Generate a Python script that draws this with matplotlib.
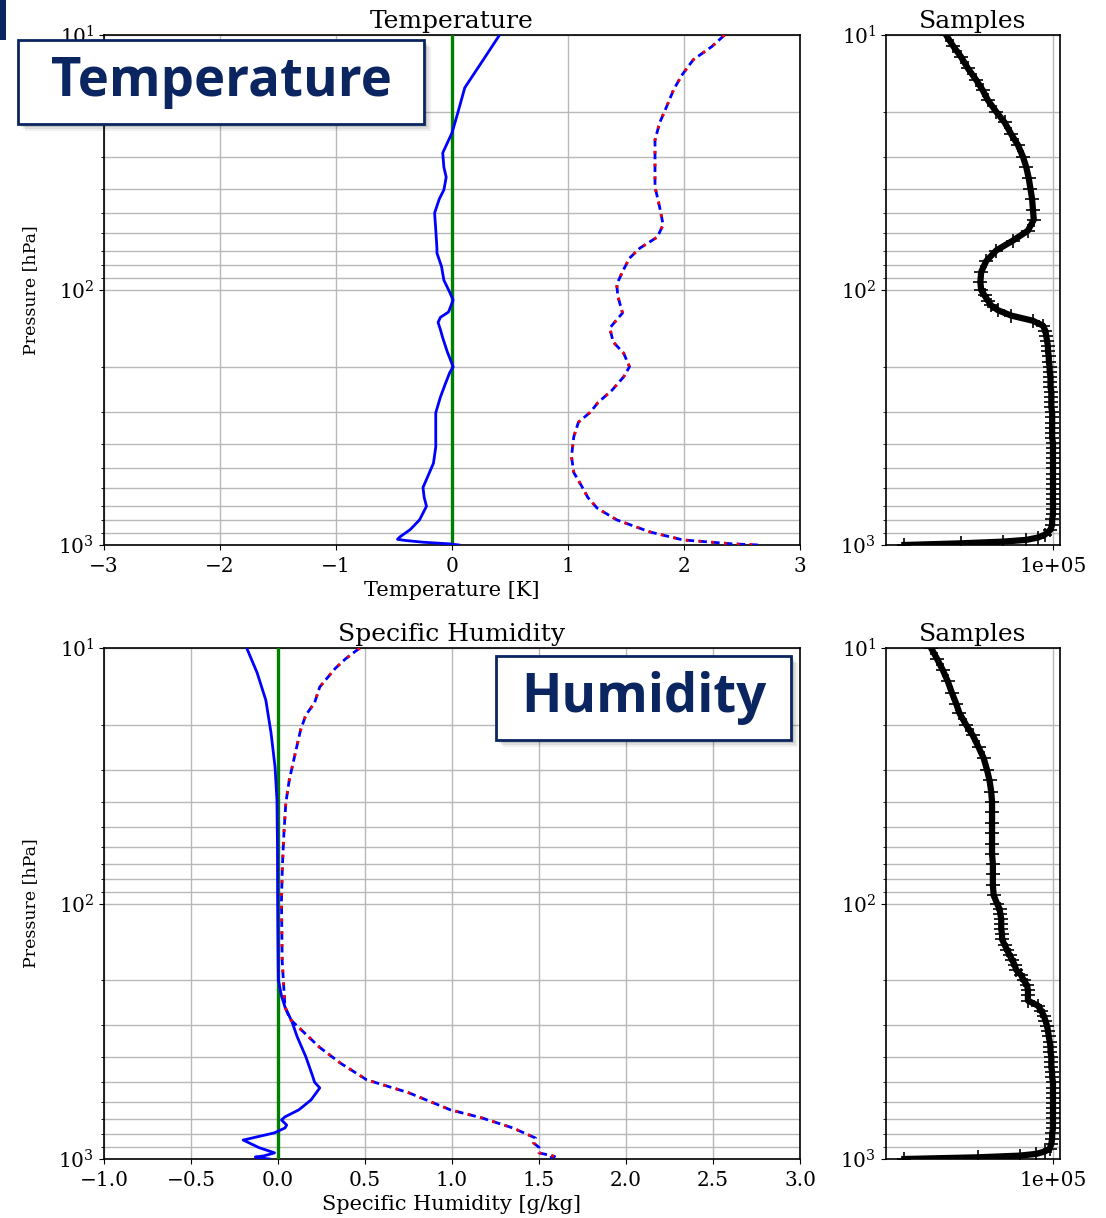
import matplotlib
matplotlib.use('Agg')
import matplotlib.pyplot as plt
import matplotlib.ticker as mticker
from matplotlib.patches import Rectangle

plt.rcParams['font.family'] = 'DejaVu Serif'
plt.rcParams['mathtext.fontset'] = 'dejavuserif'
plt.rcParams['axes.unicode_minus'] = True

# ---------------------------------------------------------------
# Data (pressure in hPa)
# ---------------------------------------------------------------

# temperature: mean departure (solid blue)
t_bias_p = [10, 12.5, 16.1, 20.2, 24.2, 29, 33, 36.1, 40.5, 44, 49.9, 58, 68.5, 71.6, 81,
            91.5, 102, 109.5, 122, 128, 134, 143, 154, 175, 200, 211, 235, 263, 303, 350,
            413, 478, 540, 595, 650, 705, 797, 870, 930, 950, 960, 975, 990, 1000]
t_bias = [0.41, 0.27, 0.11, 0.05, 0.0, -0.08, -0.07, -0.05, -0.07, -0.11, -0.15, -0.14, -0.13, -0.13, -0.09,
          -0.07, -0.02, 0.01, -0.03, -0.10, -0.12, -0.10, -0.08, -0.04, 0.01, -0.02, -0.06, -0.10, -0.14, -0.14,
          -0.14, -0.16, -0.21, -0.25, -0.24, -0.22, -0.28, -0.36, -0.45, -0.47, -0.40, -0.25, -0.02, 0.06]

# temperature: standard deviation (dashed red / blue)
t_std_p = [10, 11.1, 12.5, 14.4, 16.4, 19.1, 22.1, 25.8, 33, 39.4, 47.3, 55.5, 62, 68.5, 75, 83,
           95, 106, 123, 141, 160, 177, 200, 219, 247, 276, 302, 330, 376, 450, 520, 590, 650,
           716, 797, 890, 955, 990, 1000]
t_std = [2.35, 2.24, 2.08, 1.98, 1.91, 1.85, 1.79, 1.75, 1.75, 1.75, 1.79, 1.82, 1.77, 1.62, 1.53, 1.48,
         1.42, 1.43, 1.47, 1.36, 1.39, 1.48, 1.53, 1.48, 1.38, 1.26, 1.19, 1.09, 1.05, 1.03, 1.05, 1.12, 1.17,
         1.25, 1.42, 1.71, 1.99, 2.42, 2.65]

# specific humidity: mean departure (solid blue)
q_bias_p = [10, 12.5, 16, 21.5, 29.2, 39.4, 60, 97, 150, 199, 230, 254, 290, 332, 398, 476, 500,
            527, 587, 642, 684, 703, 737, 756, 790, 843, 902, 946, 972, 982, 992, 1000]
q_bias = [-0.18, -0.12, -0.07, -0.04, -0.017, -0.006, -0.003, -0.002, 0.0, 0.002, 0.02, 0.04, 0.08, 0.11,
          0.16, 0.20, 0.21, 0.24, 0.19, 0.12, 0.04, 0.02, 0.05, 0.04, -0.02, -0.20, -0.11, -0.02, -0.08,
          -0.13, -0.10, -0.05]

# specific humidity: standard deviation (dashed red / blue)
q_std_p = [10, 11, 12, 14.2, 16.4, 18.3, 20.9, 25.7, 32.8, 40.4, 53, 72, 97, 167, 254, 284, 320,
           366, 422, 490, 550, 642, 690, 756, 828, 867, 900, 946, 977, 990, 1000]
q_std = [0.47, 0.39, 0.33, 0.24, 0.21, 0.16, 0.13, 0.10, 0.065, 0.045, 0.034, 0.025, 0.02, 0.024, 0.04,
         0.07, 0.15, 0.24, 0.36, 0.51, 0.75, 0.99, 1.17, 1.35, 1.48, 1.47, 1.50, 1.50, 1.59, 1.56, 1.55]

# sample counts (levels with a marker)
samp_p = [10, 11, 12.2, 13.5, 15, 16.5, 18, 20, 22, 24.5, 27, 30, 33, 36.5, 40, 44, 48.5, 53, 58.5,
          64, 70, 77, 85, 93, 100, 105, 110, 115, 120, 126, 132, 138, 145, 152, 159, 166, 174, 182,
          191, 200, 209, 219, 229, 240, 251, 263, 275, 288, 302, 316, 331, 347, 363, 380, 398, 417,
          437, 457, 479, 501, 525, 550, 575, 603, 631, 661, 692, 724, 759, 794, 832, 871, 912, 935,
          955, 970, 985, 1000]
t_samples = [36, 40, 45, 49, 54, 58, 61, 66, 71, 75, 79, 82, 84, 85.5, 86.5, 87.5, 88, 88.5, 85,
             76, 66, 60, 57, 56.5, 57, 59, 61, 63, 67, 75, 88, 94, 95.5, 96, 96.5, 97, 97, 97.5,
             97.5, 98, 98, 98.5, 98.5, 98.5, 99, 99, 99, 99, 99.5, 99.5, 99.5, 99.5, 99.5, 99.5, 100, 100,
             100, 100, 100, 100, 100, 100, 100, 100, 100, 100, 100, 100, 100, 99.5, 99.5, 98.5, 95, 91,
             84, 70, 45, 11]
q_samples = [27, 30.5, 34, 37, 39.5, 42, 44, 48, 52, 55.5, 58.5, 60.5, 62, 63, 63.5, 63.5, 63.5, 63.5, 63.5,
             63.5, 64, 64, 64, 64.5, 66.5, 68, 68.5, 69, 69, 69, 69.5, 69.5, 71, 72.5, 74, 75.5, 77, 78,
             81, 82.5, 84.5, 85, 85, 85, 91, 93, 94.5, 95.5, 96.5, 97, 97.5, 98, 98.5, 98.5, 99, 99,
             99, 99.5, 99.5, 100, 100, 100, 100, 100, 100, 100, 100, 100, 100, 99.5, 99.5, 99, 98, 95,
             90, 80, 55, 11]

W, H = 1106, 1218
navy = '#0b2560'


def px_rect(x0, y0, x1, y1):
    # caja en pixeles (origen arriba a la izquierda) -> fraccion de figura
    return [x0 / W, 1 - y1 / H, (x1 - x0) / W, (y1 - y0) / H]


def pressure_axis(ax):
    ax.set_yscale('log')
    ax.set_ylim(1000, 10)
    ax.yaxis.set_minor_formatter(mticker.NullFormatter())
    ax.grid(True, which='both', axis='y', color='#b8b8b8', linewidth=1.0)
    ax.grid(True, which='major', axis='x', color='#b8b8b8', linewidth=1.0)
    ax.tick_params(labelsize=14.5)
    ax.tick_params(axis='x', pad=5)
    for s in ax.spines.values():
        s.set_linewidth(1.2)


def profile_panel(rect, title, xlabel, xlim, xticks, bias_p, bias, std_p, std):
    ax = fig.add_axes(px_rect(*rect))
    pressure_axis(ax)
    ax.set_xlim(xlim)
    ax.set_xticks(xticks)
    ax.axvline(0, color='green', linewidth=2.4, zorder=3)
    ax.plot(bias, bias_p, color='blue', linewidth=2, zorder=4)
    ax.plot(std, std_p, color='blue', linewidth=2, linestyle=(0, (3, 1.6)), zorder=4)
    ax.plot(std, std_p, color='red', linewidth=2, linestyle=(0, (1, 3.6)), zorder=5)
    ax.set_title(title, fontsize=18, pad=5)
    ax.set_xlabel(xlabel, fontsize=15, labelpad=4)
    ax.set_ylabel('Pressure [hPa]', fontsize=12.5, labelpad=14)
    return ax


def samples_panel(rect, samples):
    ax = fig.add_axes(px_rect(*rect))
    pressure_axis(ax)
    ax.set_xlim(0, 1.042e5)
    ax.set_xticks([1e5])
    ax.set_xticklabels(['1e+05'])
    ax.plot([s * 1000 for s in samples], samp_p, color='black', linewidth=4.5,
            marker='+', markersize=10, markeredgewidth=1.2, zorder=4)
    ax.set_title('Samples', fontsize=18, pad=5)
    return ax


def label_box(x0, y0, x1, y1, text, size):
    # sombra suave
    for k, a in [(7, 0.06), (5, 0.08), (3, 0.12)]:
        s = px_rect(x0 + k, y0 + k, x1 + k, y1 + k)
        fig.add_artist(Rectangle((s[0], s[1]), s[2], s[3], transform=fig.transFigure,
                                 facecolor='black', edgecolor='none', alpha=a, zorder=8))
    r = px_rect(x0, y0, x1, y1)
    fig.add_artist(Rectangle((r[0], r[1]), r[2], r[3], transform=fig.transFigure,
                             facecolor='white', edgecolor=navy, linewidth=2, zorder=9))
    fig.text(r[0] + r[2] / 2, r[1] + r[3] / 2, text, ha='center', va='center', fontsize=size,
             family='Open Sans', weight='bold', color=navy, zorder=10)


fig = plt.figure(figsize=(W / 100, H / 100), dpi=100)

profile_panel((104, 35, 800, 545), 'Temperature', 'Temperature [K]', (-3, 3),
              [-3, -2, -1, 0, 1, 2, 3], t_bias_p, t_bias, t_std_p, t_std)
samples_panel((886, 35, 1060, 545), t_samples)

profile_panel((104, 648, 800, 1159), 'Specific Humidity', 'Specific Humidity [g/kg]', (-1, 3),
              [-1.0, -0.5, 0.0, 0.5, 1.0, 1.5, 2.0, 2.5, 3.0], q_bias_p, q_bias, q_std_p, q_std)
samples_panel((886, 648, 1060, 1159), q_samples)

# recuadros de la diapositiva
r = px_rect(0, 0, 6, 40)
fig.add_artist(Rectangle((r[0], r[1]), r[2], r[3], transform=fig.transFigure,
                         facecolor=navy, edgecolor='none', zorder=9))
label_box(18, 40, 424, 124, 'Temperature', 38)
label_box(496, 656, 791, 740, 'Humidity', 38)

fig.savefig('out.png', dpi=100)
